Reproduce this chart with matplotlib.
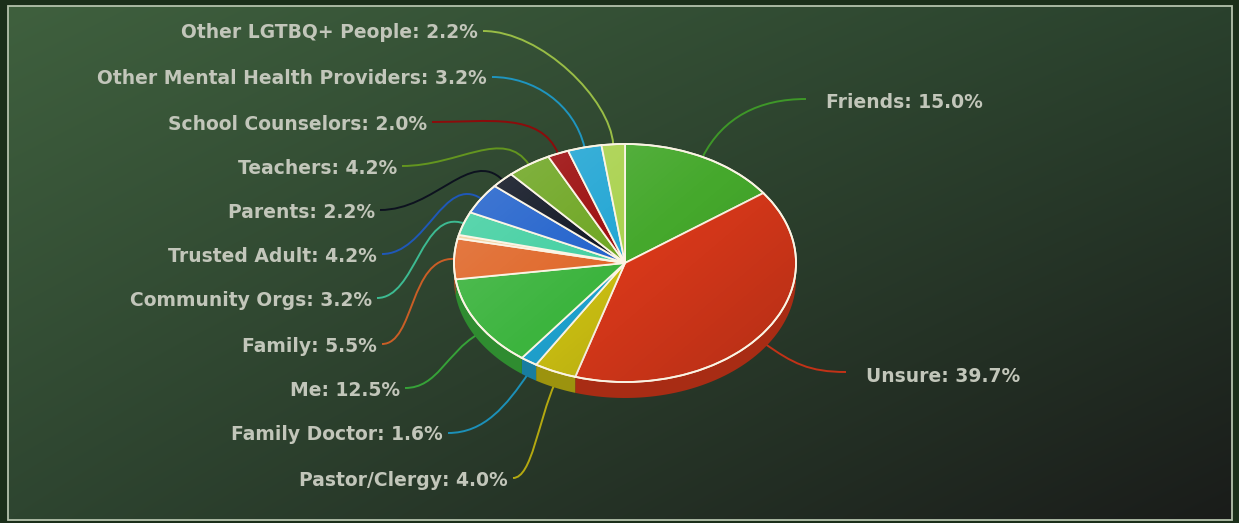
import numpy as np
import matplotlib.pyplot as plt
from matplotlib.path import Path
from matplotlib.patches import PathPatch, Rectangle, Ellipse
import matplotlib.colors as mcolors

# slices, clockwise from 12 o'clock
labels = ['Friends', 'Unsure', 'Pastor/Clergy', 'Family Doctor', 'Me', 'Family', '',
          'Community Orgs', 'Trusted Adult', 'Parents', 'Teachers', 'School Counselors',
          'Other Mental Health Providers', 'Other LGTBQ+ People']
shares = [15.0, 39.7, 4.0, 1.6, 12.5, 5.5, 0.5, 3.2, 4.2, 2.2, 4.2, 2.0, 3.2, 2.2]
colors = ['#45a82c', '#d8381a', '#c8bc12', '#1fa0cc', '#3cb43e', '#e0682a', '#f2d3a0',
          '#44d0a2', '#2262cc', '#0e1422', '#6ea622', '#9c0c0c', '#22a6d4', '#aad24e']

# label anchors in pixels (x, y, side the text sits on)
label_pos = [(826, 103, 'R'), (866, 376, 'R'), (508, 480, 'L'), (443, 435, 'L'),
             (400, 390, 'L'), (377, 346, 'L'), None, (372, 300, 'L'), (377, 256, 'L'),
             (375, 212, 'L'), (397, 168, 'L'), (427, 124, 'L'), (487, 79, 'L'),
             (478, 33, 'L')]

W, H = 1239, 523
cx, cy, rx, ry, depth = 625, 263, 171, 119, 16

fig = plt.figure(figsize=(W / 100, H / 100), dpi=100)
fig.patch.set_facecolor('#1b2f1a')
ax = fig.add_axes([0, 0, 1, 1])
ax.set_xlim(0, W)
ax.set_ylim(H, 0)
ax.axis('off')

# background gradient
gx, gy = np.meshgrid(np.linspace(0, 1, 200), np.linspace(0, 1, 100))
tl = np.array(mcolors.to_rgb('#3f603e'))
tr = np.array(mcolors.to_rgb('#2a412d'))
bl = np.array(mcolors.to_rgb('#2e4530'))
br = np.array(mcolors.to_rgb('#1a1c1a'))
bg = (tl * ((1 - gx) * (1 - gy))[..., None] + tr * (gx * (1 - gy))[..., None]
      + bl * ((1 - gx) * gy)[..., None] + br * (gx * gy)[..., None])
ax.imshow(bg, extent=[8, 1232, 520, 6], aspect='auto', zorder=0, interpolation='bilinear')
ax.add_patch(Rectangle((8, 6), 1224, 514, fill=False, ec='#b4c2ac', lw=1.3, zorder=1))


def pt(t, dy=0.0):
    r = np.radians(t)
    return cx + rx * np.cos(r), cy - ry * np.sin(r) + dy


def darker(c, f):
    return tuple(np.array(mcolors.to_rgb(c)) * f)


total = sum(shares)
starts, ends = [], []
a = 90.0
for s in shares:
    b = a - s / total * 360.0
    starts.append(a)
    ends.append(b)
    a = b

# side walls (front half only)
for t0, t1, c in zip(starts, ends, colors):
    lo, hi = max(t1, -180.0), min(t0, 0.0)
    if hi <= lo:
        continue
    ts = np.linspace(hi, lo, 60)
    xs, ys = pt(ts)
    px = np.concatenate([xs, xs[::-1]])
    py = np.concatenate([ys, (ys + depth)[::-1]])
    ax.fill(px, py, color=darker(c, 0.78), lw=0, zorder=3)

# top faces
for t0, t1, c in zip(starts, ends, colors):
    ts = np.linspace(t0, t1, max(int(abs(t0 - t1)) * 2, 4))
    xs, ys = pt(ts)
    ax.fill(np.concatenate([[cx], xs]), np.concatenate([[cy], ys]), fc=c,
            ec='#fbf4e4', lw=1.3, zorder=4)

# soft light over the top surface
ex, ey = np.meshgrid(np.linspace(0, 1, 120), np.linspace(0, 1, 90))
g = 0.5 - (0.55 * ex + 0.45 * ey)
shade = np.zeros((90, 120, 4))
shade[..., :3] = np.where(g[..., None] > 0, 1.0, 0.0)
shade[..., 3] = np.abs(g) * 0.35
im = ax.imshow(shade, extent=[cx - rx, cx + rx, cy + ry, cy - ry], aspect='auto',
               zorder=5, interpolation='bilinear')
clip = Ellipse((cx, cy), 2 * rx, 2 * ry, transform=ax.transData)
im.set_clip_path(clip)
ax.add_patch(Ellipse((cx, cy), 2 * rx, 2 * ry, fill=False, ec='#fbf4e4', lw=1.3, zorder=6))

# labels and leader lines
for lab, s, t0, t1, c, pos in zip(labels, shares, starts, ends, colors, label_pos):
    if pos is None:
        continue
    lx, ly, side = pos
    tm = (t0 + t1) / 2
    sx, sy = pt(tm, depth * 0.7 if np.sin(np.radians(tm)) < 0 else 0.0)
    if side == 'L':
        ex_, ey_ = lx + 5, ly - 2
        ha = 'right'
    else:
        ex_, ey_ = lx - 20, ly - 4
        ha = 'left'
    ax.text(lx, ly, f'{lab}: {s:.1f}%', ha=ha, va='center', fontsize=13.5,
            fontweight='bold', color='#c2c6ba', family='DejaVu Sans', zorder=7)
    ox, oy = np.cos(np.radians(tm)), -np.sin(np.radians(tm))
    d = np.hypot(ex_ - sx, ey_ - sy)
    L = min(0.4 * d, 45)
    p1 = (sx + ox * L, sy + oy * L)
    p2 = (ex_ + (0.45 * (sx - ex_)), ey_)
    path = Path([(sx, sy), p1, p2, (ex_, ey_)],
                [Path.MOVETO, Path.CURVE4, Path.CURVE4, Path.CURVE4])
    ax.add_patch(PathPatch(path, fill=False, ec=darker(c, 0.9), lw=1.4, zorder=2))

fig.savefig('out.png', dpi=100, facecolor=fig.get_facecolor())
